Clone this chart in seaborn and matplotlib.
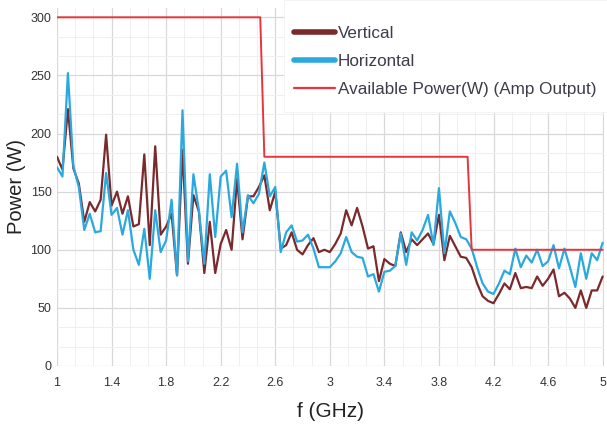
import numpy as np
import pandas as pd
import matplotlib
matplotlib.use("Agg")
import matplotlib.pyplot as plt
import matplotlib.font_manager as fm
from matplotlib.ticker import AutoMinorLocator
from matplotlib.patches import Rectangle
from matplotlib.lines import Line2D
import seaborn as sns

# ---------------- data ----------------
freq_start = 1.0
freq_step = 0.04
vertical = [180, 169, 221, 170, 157, 124, 141, 133, 143, 199,
            138, 150, 131, 146, 120, 122, 182, 104, 189, 113,
            120, 131, 78, 186, 88,
            147, 133, 80, 124, 80, 105, 117, 100, 161, 109,
            146, 146, 154, 164, 134, 150, 101, 104, 115, 100,
            96, 104, 110, 98, 100,
            98, 105, 114, 134, 121, 136, 120, 101, 103, 73,
            92, 88, 86, 115, 98, 109, 104, 109, 114, 105,
            130, 91, 112, 103, 94,
            93, 85, 71, 60, 56, 54, 62, 71, 66, 80,
            67, 68, 67, 77, 69, 75, 83, 60, 63, 58,
            50, 65, 50, 65, 65, 77]
horizontal = [171, 163, 252, 172, 154, 117, 131, 115, 116, 166,
              130, 136, 113, 134, 100, 87, 118, 75, 134, 98,
              108, 143, 78, 220, 90,
              165, 134, 88, 165, 111, 163, 168, 128, 174, 115,
              147, 140, 148, 175, 146, 154, 98, 115, 121, 107,
              108, 113, 101, 85, 85,
              85, 90, 97, 111, 98, 94, 93, 77, 79, 64,
              81, 82, 86, 114, 87, 115, 108, 117, 130, 104,
              153, 97, 133, 123, 111,
              109, 101, 85, 71, 64, 62, 71, 82, 79, 101,
              85, 95, 89, 100, 86, 90, 104, 84, 101, 85,
              68, 97, 75, 97, 91, 106]
avail_f = [1.0, 2.49, 2.52, 4.01, 4.04, 5.0]
avail_p = [300, 300, 180, 180, 100, 100]
x_ticks = [1, 1.4, 1.8, 2.2, 2.6, 3, 3.4, 3.8, 4.2, 4.6, 5]
x_tick_labels = ["1", "1.4", "1.8", "2.2", "2.6", "3", "3.4", "3.8", "4.2", "4.6", "5"]
y_ticks = [0, 50, 100, 150, 200, 250, 300]
series_names = ["Vertical", "Horizontal", "Available Power(W) (Amp Output)"]

freq = [round(freq_start + freq_step * i, 4) for i in range(len(vertical))]
df = pd.DataFrame({"f": freq * 2,
                   "P": vertical + horizontal,
                   "s": [series_names[0]] * len(vertical) + [series_names[1]] * len(horizontal)})
df_av = pd.DataFrame({"f": avail_f, "P": avail_p})

# ---------------- style ----------------
sns.set_theme(style="white")
plt.rcParams["font.family"] = ["Liberation Sans", "DejaVu Sans"]
names = {f.name for f in fm.fontManager.ttflist}
leg_font = "Liberation Sans Narrow" if "Liberation Sans Narrow" in names else "Liberation Sans"

fig = plt.figure(figsize=(6.07, 4.29), dpi=100)
ax = fig.add_axes([57 / 607, 1 - 366 / 429, 547 / 607, 358 / 429])

c_v = "#7a2a2c"
c_h = "#2aa9e0"
c_a = "#e8343a"

sns.lineplot(data=df, x="f", y="P", hue="s", palette=[c_v, c_h], ax=ax,
             linewidth=1.6, legend=False, estimator=None, sort=False)
sns.lineplot(data=df_av, x="f", y="P", ax=ax, color=c_a, linewidth=1.4,
             estimator=None, sort=False)

ax.set_xlim(1, 5.01)
ax.set_ylim(0, 308)
ax.set_xticks(x_ticks)
ax.set_xticklabels(x_tick_labels)
ax.set_yticks(y_ticks)
ax.xaxis.set_minor_locator(AutoMinorLocator(3))
ax.yaxis.set_minor_locator(AutoMinorLocator(3))
ax.grid(True, which="major", color="#d8d8d8", linewidth=0.9)
ax.grid(True, which="minor", color="#efefef", linewidth=0.7)
ax.set_axisbelow(True)
for s in ax.spines.values():
    s.set_visible(False)
ax.tick_params(axis="both", which="both", length=0, labelsize=9, colors="#333333")
ax.tick_params(axis="x", pad=8)
ax.tick_params(axis="y", pad=4)

ax.set_xlabel("f (GHz)", fontsize=15, color="#222222", labelpad=9)
ax.set_ylabel("Power (W)", fontsize=14.5, color="#222222", labelpad=3)

# white legend area
fig.patches.append(Rectangle((284 / 607, 1 - 112 / 429), 1 - 284 / 607, 112 / 429,
                             transform=fig.transFigure, facecolor="white",
                             edgecolor="#f2f2f2", linewidth=0.6, zorder=1))

handles = [Line2D([], [], color=c_v, linewidth=4, solid_capstyle="round"),
           Line2D([], [], color=c_h, linewidth=4, solid_capstyle="round"),
           Line2D([], [], color=c_a, linewidth=1.6)]
leg = fig.legend(handles, series_names, loc="upper left",
                 bbox_to_anchor=(285 / 607, 1 - 17 / 429), bbox_transform=fig.transFigure,
                 frameon=False, borderpad=0, handlelength=2.4, handletextpad=0.2,
                 labelspacing=0.78, prop={"family": leg_font, "size": 12.3})
for t in leg.get_texts():
    t.set_color("#3d3d4a")

fig.savefig("out.png", dpi=100)
